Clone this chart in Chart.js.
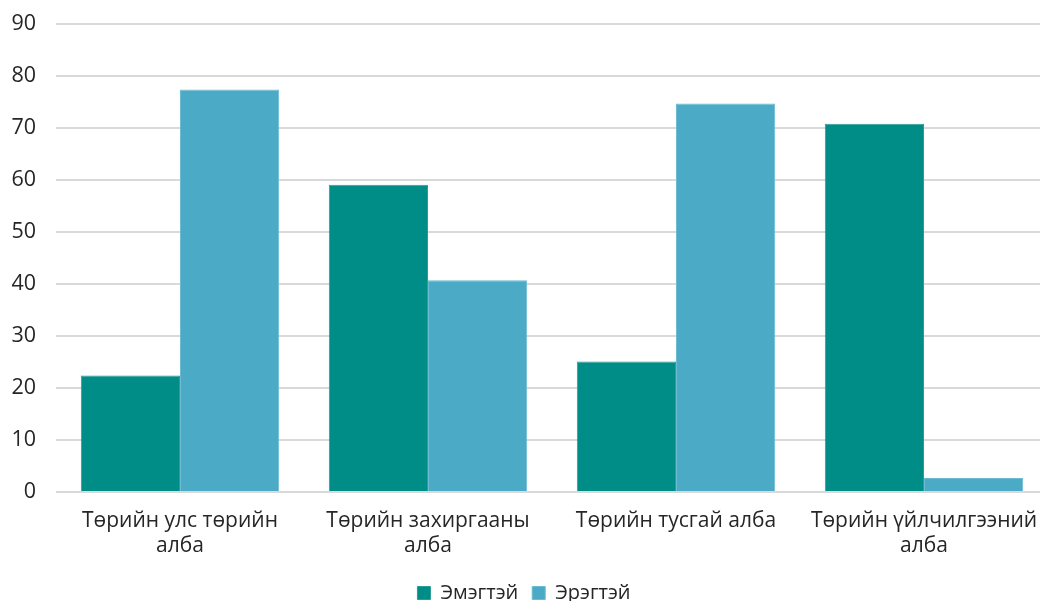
<!DOCTYPE html>
<html>
<head>
<meta charset="utf-8">
<script src="https://cdn.jsdelivr.net/npm/chart.js@4"></script>
<style>
html,body{margin:0;padding:0;background:#fff;overflow:hidden;width:1040px;height:601px;}
#wrap{width:1048px;height:601px;position:relative;}
canvas{display:block;}
</style>
</head>
<body>
<div id="wrap"><canvas id="c"></canvas></div>
<script>
const categories = [
  ["Төрийн улс төрийн", "алба"],
  ["Төрийн захиргааны", "алба"],
  ["Төрийн тусгай алба"],
  ["Төрийн үйлчилгээний", "алба"]
];
const seriesNames = ["Эмэгтэй", "Эрэгтэй"];
const female = [22.4, 59.1, 25.1, 70.8];
const male = [77.4, 40.7, 74.7, 2.7];
const yTicks = [0, 10, 20, 30, 40, 50, 60, 70, 80, 90];

const FONT = "'Open Sans', 'Noto Sans', sans-serif";
Chart.defaults.font.family = FONT;
Chart.defaults.color = "#262626";

new Chart(document.getElementById("c"), {
  type: "bar",
  data: {
    labels: categories,
    datasets: [
      { label: seriesNames[0], data: female, backgroundColor: "#008C87", borderColor: "#2a9d98", borderWidth: 1, categoryPercentage: 0.8, barPercentage: 1 },
      { label: seriesNames[1], data: male, backgroundColor: "#4BABC6", borderColor: "#6cbbd1", borderWidth: 1, categoryPercentage: 0.8, barPercentage: 1 }
    ]
  },
  options: {
    responsive: true,
    maintainAspectRatio: false,
    animation: false,
    layout: { padding: { top: 24, right: 0, bottom: -12, left: 0 } },
    plugins: {
      tooltip: { enabled: false },
      legend: {
        position: "bottom",
        labels: { font: { size: 20 }, boxWidth: 13, boxHeight: 13, padding: 14, color: "#262626" }
      }
    },
    scales: {
      x: {
        afterFit: s => { s.height = 77; s.paddingLeft = 0; s.paddingRight = 0; },
        grid: { display: false, drawTicks: false },
        border: { display: false },
        ticks: { font: { size: 21, lineHeight: 1.2 }, color: "#262626", maxRotation: 0, autoSkip: false, padding: 16 }
      },
      y: {
        min: 0, max: 90,
        afterBuildTicks: s => { s.ticks = yTicks.map(v => ({ value: v })); },
        afterFit: s => { s.width = 56; s.paddingTop = 0; s.paddingBottom = 0; },
        grid: { color: "#d9d9d9", lineWidth: 2, drawTicks: false },
        border: { display: false },
        ticks: { font: { size: 21.5 }, color: "#262626", padding: 20 }
      }
    }
  }
});
</script>
</body>
</html>
